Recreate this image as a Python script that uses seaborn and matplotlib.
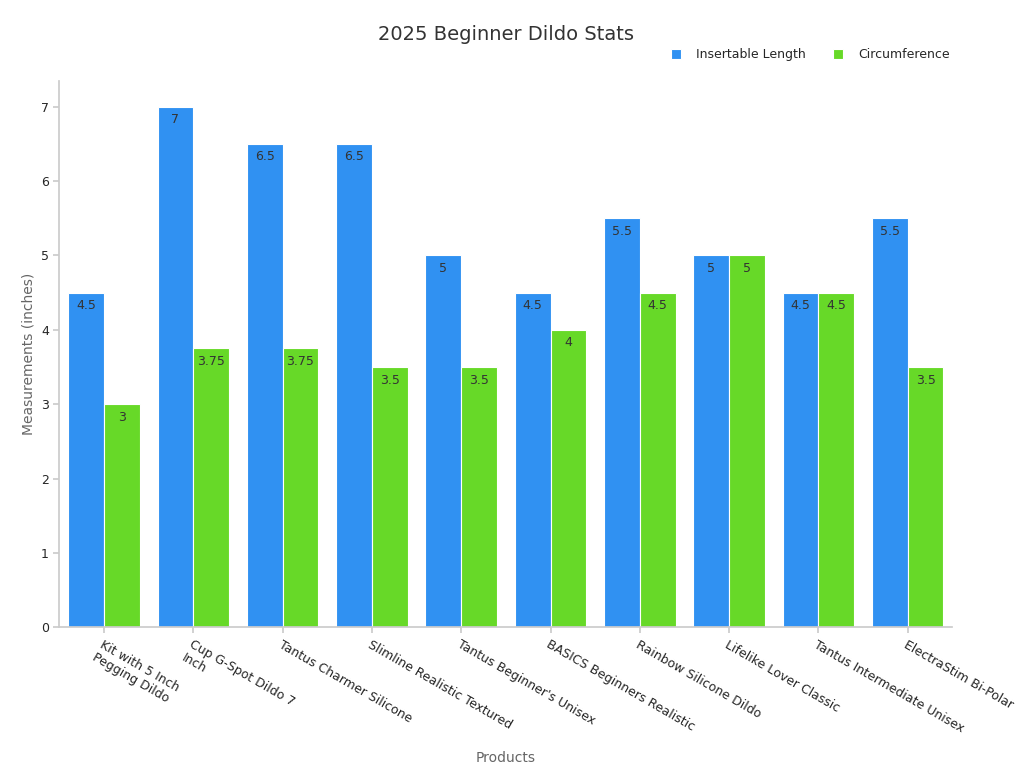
import numpy as np
import pandas as pd
from matplotlib import pyplot as plt
import seaborn as sb

products = ["Kit with 5 Inch\nPegging Dildo", "Cup G-Spot Dildo 7\nInch", "Tantus Charmer Silicone",
            "Slimline Realistic Textured", "Tantus Beginner's Unisex", "BASICS Beginners Realistic",
            "Rainbow Silicone Dildo", "Lifelike Lover Classic", "Tantus Intermediate Unisex",
            "ElectraStim Bi-Polar"]
length = [4.5, 7, 6.5, 6.5, 5, 4.5, 5.5, 5, 4.5, 5.5]
circ = [3, 3.75, 3.75, 3.5, 3.5, 4, 4.5, 5, 4.5, 3.5]

df = pd.DataFrame({"Products": products * 2,
                   "value": length + circ,
                   "series": ["Insertable Length"] * 10 + ["Circumference"] * 10})

sb.set(style='white')
fig, ax = plt.subplots(figsize=(10.24, 7.68), dpi=100)
sb.barplot(data=df, x="Products", y="value", hue="series", saturation=1,
           palette=["#3091F2", "#67D928"], width=0.8, edgecolor="white", linewidth=0.8, ax=ax)

for cont in ax.containers:
    labels = [f"{v:g}" for v in cont.datavalues]
    ax.bar_label(cont, labels=labels, label_type='edge', padding=-14, fontsize=9, color="#333333")

ax.set_ylim(0, 7.35)
ax.set_yticks(range(8))
ax.set_xlim(-0.5, 9.5)
ax.set_title("2025 Beginner Dildo Stats", fontsize=14, color="#333333", pad=29)
ax.set_xlabel("Products", fontsize=10, color="#666666", labelpad=12)
ax.set_ylabel("Measurements (inches)", fontsize=10, color="#666666")
plt.xticks(rotation=-30, ha='left', rotation_mode='anchor', fontsize=9)
plt.yticks(fontsize=9)
ax.tick_params(axis='both', length=4, color="#cccccc", left=True, bottom=True)
sb.despine(ax=ax)
for s in ["left", "bottom"]:
    ax.spines[s].set_color("#cccccc")
ax.legend(loc='upper right', bbox_to_anchor=(1.01, 1.08), ncol=2, frameon=False,
          fontsize=9, handlelength=0.8, handleheight=0.8, columnspacing=2.2, handletextpad=1.2)

plt.subplots_adjust(left=0.058, right=0.93, top=0.895, bottom=0.183)
plt.savefig('out.png', dpi=100)
